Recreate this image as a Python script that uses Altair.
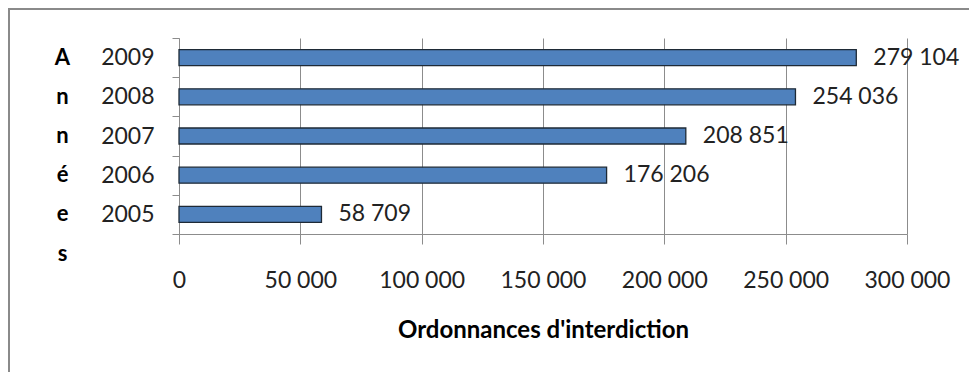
import altair as alt
import pandas as pd

# Ordonnances d'interdiction par année
years = ["2005", "2006", "2007", "2008", "2009"]
orders = [58709, 176206, 208851, 254036, 279104]
x_ticks = [0, 50000, 100000, 150000, 200000, 250000, 300000]

df = pd.DataFrame({"annee": years, "ordonnances": orders})

FONT = "Lato"
GRID = "#8c8c8c"

y_enc = alt.Y(
    "annee:N",
    sort="descending",
    scale=alt.Scale(paddingInner=0, paddingOuter=0),
    axis=alt.Axis(
        title=["A", "n", "n", "é", "e", "s"],
        titleAngle=0,
        titleFont=FONT,
        titleFontSize=22,
        titleFontWeight="bold",
        titleColor="#000000",
        titleLineHeight=39.2,
        titleAlign="center",
        titleBaseline="alphabetic",
        titleX=-117,
        titleY=26,
        labelFont=FONT,
        labelFontSize=23,
        labelColor="#222222",
        labelPadding=18,
        tickSize=7,
        tickBand="extent",
        tickColor=GRID,
        domainColor=GRID,
        grid=False,
    ),
)

x_enc = alt.X(
    "ordonnances:Q",
    scale=alt.Scale(domain=[0, 300000], nice=False),
    axis=alt.Axis(
        title="Ordonnances d'interdiction",
        titleFont=FONT,
        titleFontSize=24,
        titleFontWeight="bold",
        titleColor="#000000",
        titleBaseline="alphabetic",
        titleY=103,
        values=x_ticks,
        format=",d",
        labelFont=FONT,
        labelFontSize=23,
        labelColor="#222222",
        labelPadding=25,
        labelBaseline="top",
        labelOverlap=False,
        labelFlush=False,
        tickSize=10,
        tickColor=GRID,
        domainColor=GRID,
        gridColor=GRID,
        gridWidth=1,
    ),
)

base = alt.Chart(df)

bars = base.mark_bar(
    size=16, color="#4f81bd", stroke="#1e2a36", strokeWidth=1.3
).encode(x=x_enc, y=y_enc)

labels = base.mark_text(
    align="left", baseline="middle", dx=17, font=FONT, fontSize=23, color="#222222"
).encode(
    x="ordonnances:Q",
    y=alt.Y("annee:N", sort="descending"),
    text=alt.Text("ordonnances:Q", format=",d"),
)

# outer chart frame
frame = base.mark_rect(
    fill=None, stroke="#8a8a8a", strokeWidth=2
).encode(
    x=alt.value(-170), x2=alt.value(900), y=alt.value(-29), y2=alt.value(400)
)

chart = (
    alt.layer(frame, bars, labels)
    .properties(
        width=728,
        height=196,
        autosize=alt.AutoSizeParams(type="none"),
        padding={"left": 179, "top": 38, "right": 62, "bottom": 138},
        background="#ffffff",
    )
    .configure_view(stroke=None)
)

chart.save(
    "out.html",
    embed_options={
        "renderer": "svg",
        "actions": False,
        "formatLocale": {
            "decimal": ",",
            "thousands": "\u00a0",
            "grouping": [3],
            "currency": ["", "\u00a0€"],
        },
    },
)
